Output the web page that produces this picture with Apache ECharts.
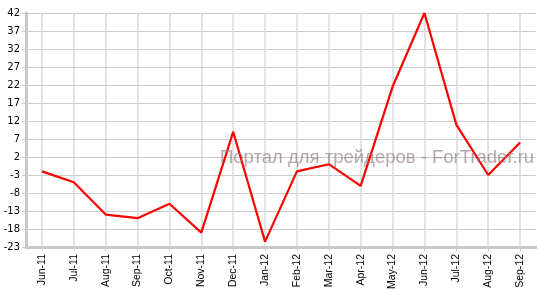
<!DOCTYPE html>
<html><head><meta charset="utf-8">
<script src="https://cdn.jsdelivr.net/npm/echarts@6/dist/echarts.min.js"></script>
<style>html,body{margin:0;padding:0;background:#fff}#c{width:537px;height:294px}</style>
</head><body><div id="c"></div>
<script>
var categories = ['Jun-11','Jul-11','Aug-11','Sep-11','Oct-11','Nov-11','Dec-11','Jan-12','Feb-12','Mar-12','Apr-12','May-12','Jun-12','Jul-12','Aug-12','Sep-12'];
var values = [-2, -5, -14, -15, -11, -19, 9, -21.5, -2, 0, -6, 21.5, 42, 11, -3, 6];
var watermark = 'Портал для трейдеров - ForTrader.ru';

var chart = echarts.init(document.getElementById('c'));
chart.setOption({
  animation: false,
  grid: {left: 26, right: 1, top: 13, bottom: 47, containLabel: false},
  xAxis: {
    type: 'category', data: categories, boundaryGap: true,
    axisLine: {onZero: false, lineStyle: {color: '#c8c8c8', width: 3}},
    axisTick: {show: true, alignWithLabel: true, length: 4, lineStyle: {color: '#c8c8c8'}},
    axisLabel: {rotate: 90, interval: 0, fontFamily: 'Liberation Sans', fontSize: 10.5, color: '#000', margin: 7},
    splitLine: {show: true, alignWithLabel: true, lineStyle: {color: '#d8d8d8', width: 1.5}}
  },
  yAxis: {
    type: 'value', min: -23, max: 42, interval: 5,
    axisLine: {show: true, lineStyle: {color: '#c8c8c8', width: 3}},
    axisTick: {show: true, length: 4, lineStyle: {color: '#c8c8c8'}},
    axisLabel: {fontFamily: 'DejaVu Sans', fontSize: 10, color: '#000', margin: 6},
    splitLine: {lineStyle: {color: '#cccccc', width: 1}}
  },
  graphic: [{
    type: 'text', left: 220, top: 148, z: 100,
    style: {text: watermark, fontFamily: 'Liberation Sans', fontSize: 18.5, fill: 'rgba(140,120,120,0.65)'}
  }],
  series: [{
    type: 'line', data: values, symbol: 'none',
    lineStyle: {color: '#ff0000', width: 2.2}
  }]
});
</script></body></html>
